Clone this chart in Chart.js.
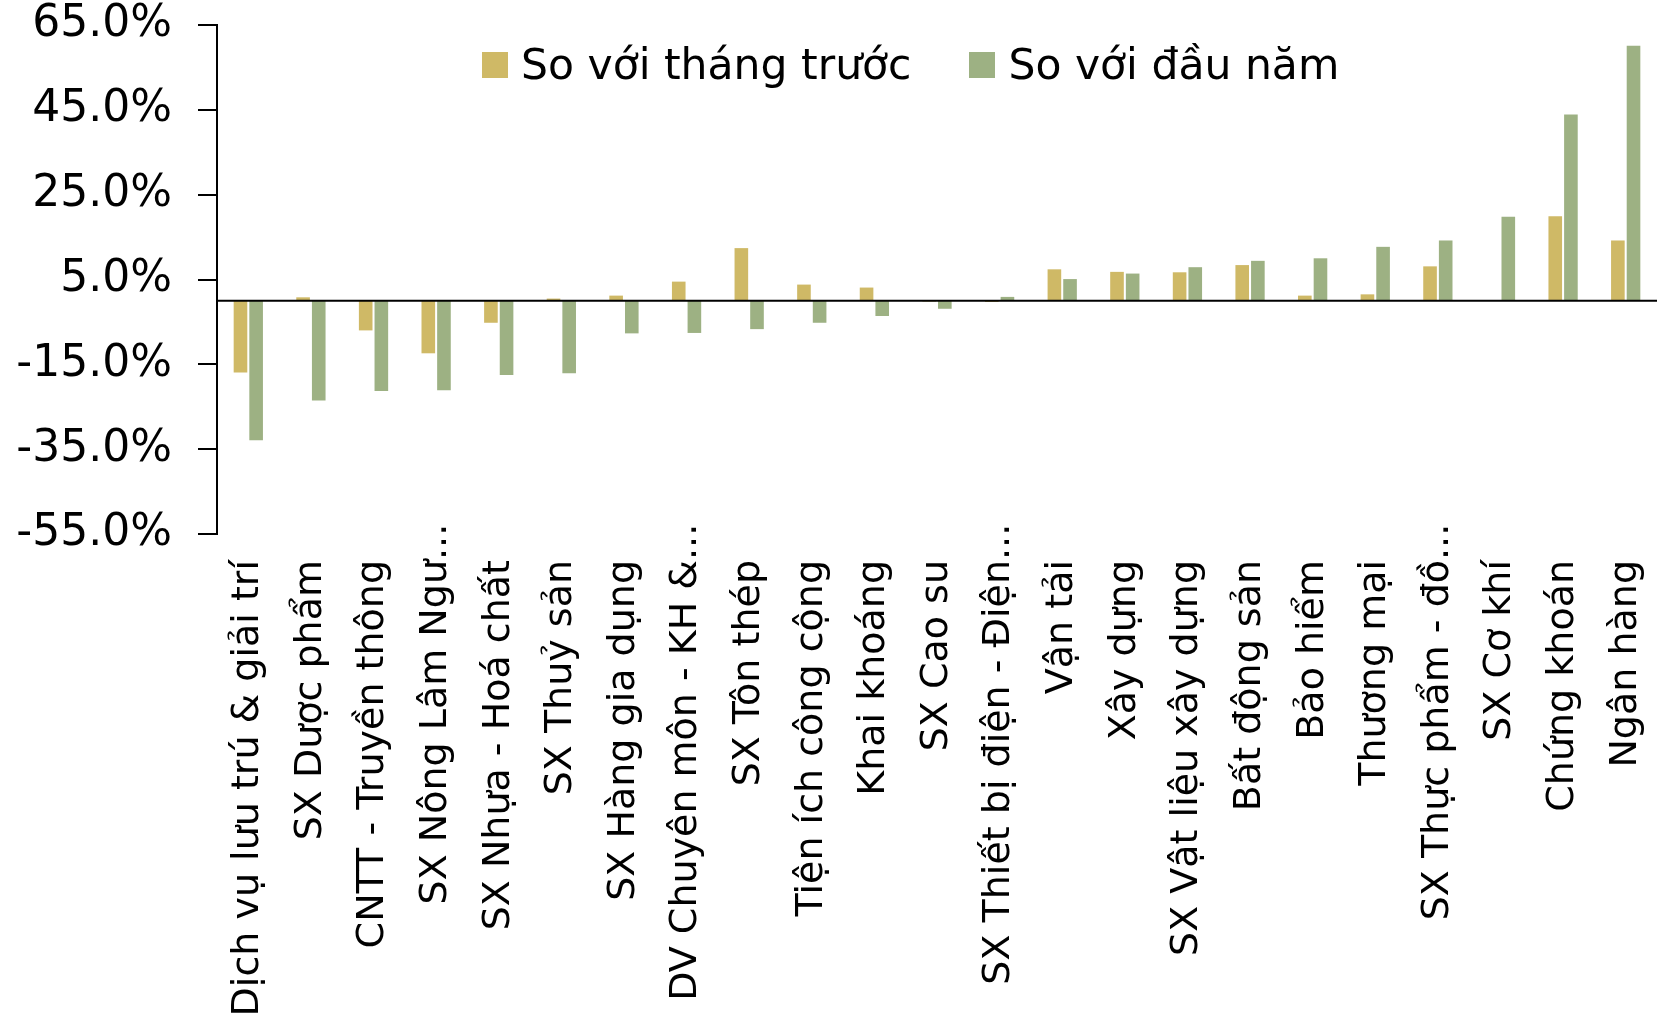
<!DOCTYPE html>
<html lang="vi">
<head>
<meta charset="utf-8">
<script src="https://cdn.jsdelivr.net/npm/chart.js"></script>
<style>
  html, body { margin: 0; padding: 0; background: #fff; }
  #wrap { position: relative; width: 1662px; height: 1023px; }
  .legend { position: absolute; top: 44px; left: 482px; display: flex; align-items: center;
            font-family: "DejaVu Sans", sans-serif; font-size: 42.5px; color: #000; line-height: 1; }
  .legend .item { display: flex; align-items: center; margin-right: 58px; }
  .legend .sw { width: 26px; height: 26px; margin-right: 13px; }
</style>
</head>
<body>
<div id="wrap">
  <canvas id="chart"></canvas>
  <div class="legend">
    <div class="item"><span class="sw" style="background:#CFB966"></span><span>So với tháng trước</span></div>
    <div class="item"><span class="sw" style="background:#9DB183"></span><span>So với đầu năm</span></div>
  </div>
</div>
<script>
// -------------------------------
// DATA
// -------------------------------
const categories = [
  "Dịch vụ lưu trú & giải trí", "SX Dược phẩm", "CNTT - Truyền thông", "SX Nông Lâm Ngư...",
  "SX Nhựa - Hoá chất", "SX Thuỷ sản", "SX Hàng gia dụng", "DV Chuyên môn - KH &...",
  "SX Tôn thép", "Tiện ích công cộng", "Khai khoáng", "SX Cao su",
  "SX Thiết bị điện - Điện...", "Vận tải", "Xây dựng", "SX Vật liệu xây dựng",
  "Bất động sản", "Bảo hiểm", "Thương mại", "SX Thực phẩm - đồ...",
  "SX Cơ khí", "Chứng khoán", "Ngân hàng"
];

// So với tháng trước (%)
const monthChange = [-16.9, 0.8, -7.0, -12.4, -5.2, 0.5, 1.2, 4.5, 12.4, 3.8, 3.1, -0.2,
                     -0.3, 7.4, 6.8, 6.7, 8.4, 1.2, 1.5, 8.1, 0.0, 19.9, 14.2];

// So với đầu năm (%)
const ytdChange = [-32.9, -23.5, -21.3, -21.1, -17.5, -17.1, -7.7, -7.6, -6.7, -5.2, -3.6, -1.9,
                   0.9, 5.1, 6.4, 7.9, 9.4, 10.0, 12.7, 14.2, 19.8, 43.9, 60.1];

const yTicks = [-55, -35, -15, 5, 25, 45, 65];

const FONT = "DejaVu Sans";

// zero line across the plot
const zeroLine = {
  id: "zeroLine",
  afterDatasetsDraw(chart) {
    const { ctx, chartArea, scales } = chart;
    const y = scales.y.getPixelForValue(0);
    ctx.save();
    ctx.strokeStyle = "#000";
    ctx.lineWidth = 2;
    ctx.beginPath();
    ctx.moveTo(chartArea.left, y);
    ctx.lineTo(chartArea.right, y);
    ctx.stroke();
    ctx.restore();
  }
};

// vertical category labels; truncated ones let their "..." run past the top line (like Excel)
const xLabels = {
  id: "xLabels",
  afterDraw(chart) {
    const { ctx, chartArea, scales } = chart;
    const top = chartArea.bottom + 26;
    ctx.save();
    ctx.font = "38px " + FONT;
    ctx.fillStyle = "#000";
    ctx.textAlign = "right";
    ctx.textBaseline = "middle";
    const dots = ctx.measureText("...").width;
    categories.forEach((label, i) => {
      const x = scales.x.getPixelForTick(i);
      const shift = label.endsWith("...") ? dots : 0;
      ctx.save();
      ctx.translate(x, top - shift);
      ctx.rotate(-Math.PI / 2);
      ctx.fillText(label, 0, 0);
      ctx.restore();
    });
    ctx.restore();
  }
};

new Chart(document.getElementById("chart"), {
  type: "bar",
  data: {
    labels: categories,
    datasets: [
      { label: "So với tháng trước", data: monthChange, backgroundColor: "#CFB966" },
      { label: "So với đầu năm", data: ytdChange, backgroundColor: "#9DB183" }
    ]
  },
  options: {
    responsive: true,
    maintainAspectRatio: false,
    animation: false,
    categoryPercentage: 0.5,
    barPercentage: 0.87,
    layout: { padding: { top: 25, right: 5, bottom: 0, left: 0 } },
    plugins: {
      legend: { display: false },
      tooltip: { enabled: false }
    },
    scales: {
      x: {
        grid: { display: false, drawTicks: false },
        border: { display: false },
        ticks: { display: false },
        afterFit: s => { s.height = 489; s.paddingLeft = 0; s.paddingRight = 0; }
      },
      y: {
        min: -55, max: 65,
        afterBuildTicks: s => { s.ticks = yTicks.map(v => ({ value: v })); },
        ticks: {
          color: "#000", padding: 26,
          font: { family: FONT, size: 44 },
          callback: v => v.toFixed(1) + "%"
        },
        grid: { drawOnChartArea: false, drawTicks: true, tickLength: 19, color: "#000", lineWidth: 2 },
        border: { display: true, color: "#000", width: 2 },
        afterFit: s => { s.width = 217; s.paddingTop = 0; s.paddingBottom = 0; }
      }
    }
  },
  plugins: [zeroLine, xLabels]
});
</script>
</body>
</html>
